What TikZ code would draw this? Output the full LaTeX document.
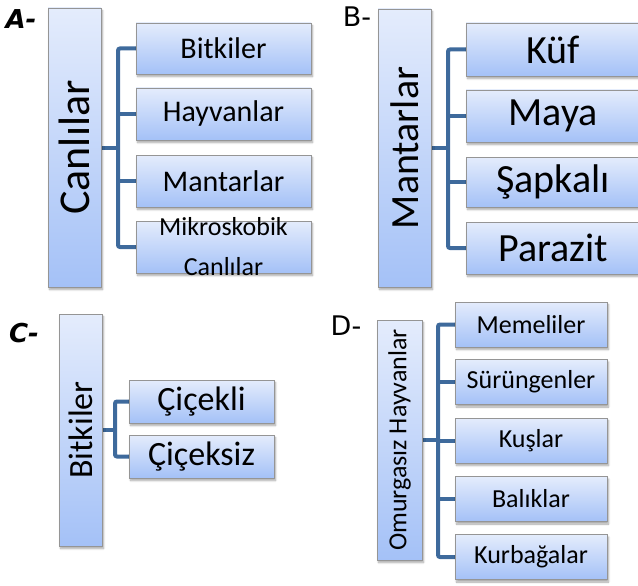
\documentclass[tikz,border=0pt]{standalone}
\usepackage{fontspec}
\usepackage{graphicx}
\setmainfont{Carlito}
\newfontfamily\lblfont{DejaVu Sans}
\usetikzlibrary{shadows.blur,backgrounds}
\definecolor{boxtop}{HTML}{E4ECFC}
\definecolor{boxbot}{HTML}{A4C1F7}
\definecolor{boxline}{HTML}{959595}
\definecolor{connc}{HTML}{3E6A9C}
\tikzset{
  box/.style={draw=boxline, line width=0.9pt, top color=boxtop, bottom color=boxbot,
    inner sep=0pt, outer sep=0pt, align=center,
    blur shadow={shadow xshift=1.5pt, shadow yshift=-2.5pt, shadow blur steps=6, shadow opacity=35}},
  conn/.style={draw=connc, line width=4pt, rounded corners=2pt},
  lbl/.style={font=\lblfont\fontsize{27}{29}\selectfont, inner sep=0pt},
  lbli/.style={font=\lblfont\bfseries\itshape\fontsize{26}{28}\selectfont, inner sep=0pt},
}
\newcommand{\fs}[1]{\fontsize{#1}{#1}\selectfont}
\begin{document}
\begin{tikzpicture}[x=1pt,y=-1pt]
\useasboundingbox (0,0) rectangle (638,586);
% labels
\node[lbli] (la) at (21,19) {A-};
\node[lbl] (lb) at (357,17) {B-};
\node[lbli] (lc) at (24,333) {C-};
\node[lbl] (ld) at (346,326) {D-};

% Panel A
\node[box, minimum width=53pt, minimum height=279pt] (ra) at (74.5,147.5) {\rotatebox{90}{\fs{44}Canlılar}};
\node[box, minimum width=175pt, minimum height=51pt, font=\fs{30}] (a1) at (223.5,48.5) {Bitkiler};
\node[box, minimum width=175pt, minimum height=52pt, font=\fs{30}] (a2) at (223.5,114) {Hayvanlar};
\node[box, minimum width=175pt, minimum height=52pt, font=\fs{30}] (a3) at (223.5,181) {Mantarlar};
\node[box, minimum width=175pt, minimum height=52pt,
  label={[font=\fontsize{26}{40}\selectfont, align=center, inner sep=0pt]center:Mikroskobik\\Canlılar}] (a4) at (223.5,247) {};
\coordinate (ta) at (118,147.5);

% Panel B
\node[box, minimum width=53pt, minimum height=278pt] (rb) at (404.5,148) {\rotatebox{90}{\fs{40}Mantarlar}};
\node[box, minimum width=174pt, minimum height=53pt, font=\fs{40}] (b1) at (553,49.5) {Küf};
\node[box, minimum width=174pt, minimum height=52pt, font=\fs{40}] (b2) at (553,116) {Maya};
\node[box, minimum width=174pt, minimum height=50pt, font=\fs{40}] (b3) at (553,182) {Şapkalı};
\node[box, minimum width=174pt, minimum height=52pt, font=\fs{40}] (b4) at (553,248) {Parazit};
\coordinate (tb) at (448,148);

% Panel C
\node[box, minimum width=43pt, minimum height=232pt] (rc) at (80.5,430) {\rotatebox{90}{\fs{34}Bitkiler}};
\node[box, minimum width=145pt, minimum height=43pt, font=\fs{34}] (c1) at (201.5,401.5) {Çiçekli};
\node[box, minimum width=145pt, minimum height=43pt, font=\fs{34}] (c2) at (201.5,456.5) {Çiçeksiz};
\coordinate (tc) at (115,430);

% Panel D
\node[box, minimum width=45pt, minimum height=240pt] (rd) at (399.5,440) {\rotatebox{90}{\fs{26}Omurgasız Hayvanlar}};
\node[box, minimum width=152pt, minimum height=45pt, font=\fs{26}] (d1) at (531,324.5) {Memeliler};
\node[box, minimum width=152pt, minimum height=45pt, font=\fs{26}] (d2) at (531,382) {Sürüngenler};
\node[box, minimum width=152pt, minimum height=45pt, font=\fs{26}] (d3) at (531,440.5) {Kuşlar};
\node[box, minimum width=152pt, minimum height=45pt, font=\fs{26}] (d4) at (531,499) {Balıklar};
\node[box, minimum width=152pt, minimum height=45pt, font=\fs{26}] (d5) at (531,557) {Kurbağalar};
\coordinate (td) at (438,440);

\begin{scope}[on background layer]
% A connectors
\draw[conn] (ra.east) -- (ta);
\draw[conn] (a1.west) -| (ta) |- (a4.west);
\draw[conn] (a2.west) -- (a2.west -| ta);
\draw[conn] (a3.west) -- (a3.west -| ta);
% B connectors
\draw[conn] (rb.east) -- (tb);
\draw[conn] (b1.west) -| (tb) |- (b4.west);
\draw[conn] (b2.west) -- (b2.west -| tb);
\draw[conn] (b3.west) -- (b3.west -| tb);
% C connectors
\draw[conn] (rc.east) -- (tc);
\draw[conn] (c1.west) -| (tc) |- (c2.west);
% D connectors
\draw[conn] (rd.east) -- (td);
\draw[conn] (d1.west) -| (td) |- (d5.west);
\draw[conn] (d2.west) -- (d2.west -| td);
\draw[conn] (d3.west) -- (d3.west -| td);
\draw[conn] (d4.west) -- (d4.west -| td);
\end{scope}
\end{tikzpicture}
\end{document}
